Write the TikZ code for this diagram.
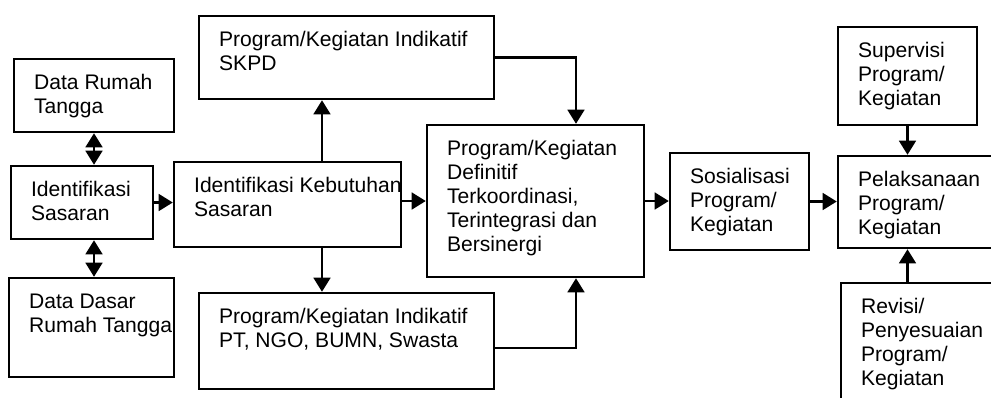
\documentclass[tikz,border=0pt]{standalone}
\usepackage{fontspec}
\setmainfont{Liberation Sans}
\usetikzlibrary{arrows.meta}

\begin{document}
\begin{tikzpicture}[x=0.02cm,y=-0.02cm,
  box/.style={draw,line width=1.4pt,inner sep=0},
  txt/.style={anchor=north west,align=left,inner sep=0,xshift=0.42cm,yshift=-0.33cm,
    font=\fontsize{12}{13.6}\selectfont},
  arr/.style={-{Triangle[length=8pt,width=9.5pt]},line width=1.4pt},
  dbl/.style={{Triangle[length=8pt,width=9.5pt]}-{Triangle[length=8pt,width=9.5pt]},line width=1.4pt}]
\useasboundingbox (0,0) rectangle (991,397);
\clip (0,0) rectangle (991,397);
\node[box,minimum width=3.2cm,minimum height=1.46cm] (drt) at (94,95.5) {};
\node[txt] (drtt) at (drt.north west) {Data Rumah\\Tangga};
\node[box,minimum width=2.84cm,minimum height=1.46cm] (ids) at (82,202.5) {};
\node[txt] (idst) at (ids.north west) {Identifikasi\\Sasaran};
\node[box,minimum width=3.3cm,minimum height=1.98cm] (ddr) at (91.5,327.5) {};
\node[txt] (ddrt) at (ddr.north west) {Data Dasar\\Rumah Tangga};
\node[box,minimum width=5.9cm,minimum height=1.66cm] (skpd) at (346.5,57.5) {};
\node[txt] (skpdt) at (skpd.north west) {Program/Kegiatan Indikatif\\SKPD};
\node[box,minimum width=4.54cm,minimum height=1.7cm] (ikb) at (287.5,204.5) {};
\node[txt] (ikbt) at (ikb.north west) {Identifikasi Kebutuhan\\Sasaran};
\node[box,minimum width=5.9cm,minimum height=1.92cm] (pt) at (346.5,341) {};
\node[txt] (ptt) at (pt.north west) {Program/Kegiatan Indikatif\\PT, NGO, BUMN, Swasta};
\node[box,minimum width=4.34cm,minimum height=3.04cm] (def) at (535.5,201) {};
\node[txt] (deft) at (def.north west) {Program/Kegiatan\\Definitif\\Terkoordinasi,\\Terintegrasi dan\\Bersinergi};
\node[box,minimum width=2.78cm,minimum height=1.94cm] (sos) at (739.5,201.5) {};
\node[txt] (sost) at (sos.north west) {Sosialisasi\\Program/\\Kegiatan};
\node[box,minimum width=2.78cm,minimum height=1.96cm] (sup) at (907.5,76) {};
\node[txt] (supt) at (sup.north west) {Supervisi\\Program/\\Kegiatan};
\node[box,minimum width=3.24cm,minimum height=1.84cm] (pel) at (919,202) {};
\node[txt] (pelt) at (pel.north west) {Pelaksanaan\\Program/\\Kegiatan};
\node[box,minimum width=3.18cm,minimum height=2.74cm] (rev) at (920.5,351.5) {};
\node[txt] (revt) at (rev.north west) {Revisi/\\Penyesuaian\\Program/\\Kegiatan};
\draw[dbl] (drt.south) -- (drt.south |- ids.north);
\draw[dbl] (drt.south |- ids.south) -- (drt.south |- ddr.north);
\draw[arr] (ids.east) -- (ids.east -| ikb.west);
\draw[arr] ([xshift=0.69cm]ikb.north) -- ([xshift=0.69cm]ikb.north |- skpd.south);
\draw[arr] ([xshift=0.69cm]ikb.south) -- ([xshift=0.69cm]ikb.south |- pt.north);
\draw[arr] (ikb.east |- def.west) -- (def.west);
\draw[arr] (skpd.east) -| ([xshift=0.81cm]def.north);
\draw[arr] ([yshift=-0.14cm]pt.east) -| ([xshift=0.81cm]def.south);
\draw[arr] (def.east) -- (def.east -| sos.west);
\draw[arr] (sos.east) -- (sos.east -| pel.west);
\draw[arr] (sup.south) -- (sup.south |- pel.north);
\draw[arr] (rev.north -| sup.south) -- (pel.south -| sup.south);
\end{tikzpicture}
\end{document}
